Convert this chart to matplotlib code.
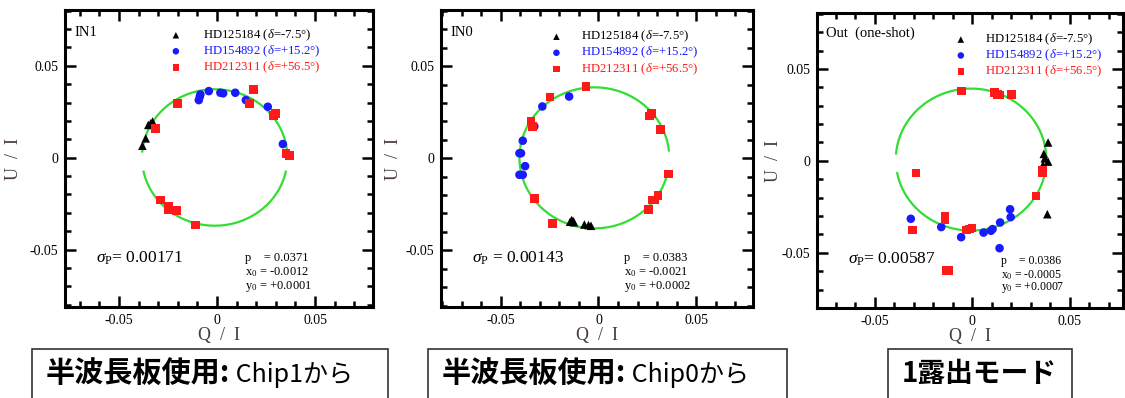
import numpy as np
import matplotlib.pyplot as plt
from matplotlib.patches import Rectangle
from matplotlib.ticker import MultipleLocator

plt.rcParams['font.family'] = ['Liberation Serif', 'DejaVu Serif']
plt.rcParams['mathtext.fontset'] = 'custom'
plt.rcParams['mathtext.rm'] = 'Liberation Serif'
plt.rcParams['mathtext.it'] = 'Liberation Serif:italic'

# ---- data: (Q/I, U/I) ----
# panel 1: IN1
p1_black_q = [-0.0381, -0.0364, -0.0351, -0.0339, -0.0329]
p1_black_u = [0.0065, 0.0105, 0.0178, 0.0187, 0.0197]
p1_blue_q = [-0.0093, -0.0088, -0.0085, -0.0042, 0.0017, 0.0031, 0.0093, 0.0147, 0.0259, 0.0336]
p1_blue_u = [0.0313, 0.0332, 0.0344, 0.0362, 0.0353, 0.0350, 0.0353, 0.0313, 0.0277, 0.0074]
p1_red_q = [-0.0203, -0.0314, 0.0186, 0.0166, 0.0288, 0.0297, 0.0353, 0.0369,
            -0.0288, -0.0249, -0.0249, -0.0208, -0.0110]
p1_red_u = [0.0295, 0.0159, 0.0371, 0.0295, 0.0228, 0.0241, 0.0024, 0.0011,
            -0.0230, -0.0263, -0.0284, -0.0288, -0.0366]

# panel 2: IN0
p2_black_q = [-0.0137, -0.0130, -0.0145, -0.0125, -0.0072, -0.0051, -0.0038]
p2_black_u = [-0.0336, -0.0340, -0.0345, -0.0348, -0.0360, -0.0363, -0.0367]
p2_blue_q = [-0.0150, -0.0287, -0.0328, -0.0387, -0.0396, -0.0404, -0.0375, -0.0404, -0.0387]
p2_blue_u = [0.0335, 0.0281, 0.0173, 0.0095, 0.0027, 0.0027, -0.0043, -0.0090, -0.0090]
p2_red_q = [-0.0063, -0.0247, -0.0346, -0.0338, 0.0270, 0.0261, 0.0316, 0.0358,
            0.0273, 0.0290, 0.0304, 0.0256, -0.0328, -0.0235]
p2_red_u = [0.0389, 0.0333, 0.0198, 0.0171, 0.0243, 0.0230, 0.0155, -0.0085,
            -0.0228, -0.0228, -0.0201, -0.0277, -0.0219, -0.0354]

# panel 3: Out (one-shot)
p3_black_q = [0.0390, 0.0368, 0.0373, 0.0390, 0.0364, 0.0386]
p3_black_u = [0.0100, 0.0038, 0.0014, -0.0004, -0.0022, -0.0290]
p3_blue_q = [-0.0314, -0.0158, -0.0056, 0.0059, 0.0097, 0.0105, 0.0144, 0.0141, 0.0195, 0.0198]
p3_blue_u = [-0.0315, -0.0360, -0.0415, -0.0390, -0.0380, -0.0371, -0.0335, -0.0475, -0.0263, -0.0306]
p3_red_q = [-0.0054, 0.0115, 0.0131, 0.0144, 0.0203, 0.0361, 0.0361, 0.0327,
            -0.0288, -0.0139, -0.0139, -0.0305, -0.0014, 0.0000, -0.0029, -0.0130, -0.0122]
p3_red_u = [0.0380, 0.0371, 0.0362, 0.0359, 0.0362, -0.0049, -0.0067, -0.0190,
            -0.0067, -0.0303, -0.0321, -0.0375, -0.0370, -0.0366, -0.0375, -0.0596, -0.0596]

panel_names = ['IN1', 'IN0', 'Out  (one-shot)']
sigma_p = ['0.00171', '0.00143', '0.00587']
sigma_lbl = ['$\\sigma_\\mathrm{P}$= ', '$\\sigma_\\mathrm{P}$ = ', '$\\sigma_\\mathrm{P}$= ']
fit_p = ['0.0371', '0.0383', '0.0386']
fit_x0 = ['-0.0012', '-0.0021', '-0.0005']
fit_y0 = ['+0.0001', '+0.0002', '+0.0007']
# arcs of the fitted circle (degrees), gaps where nothing was drawn
arcs = [[(5, 175), (192, 348)], [(6, 346)], [(-169, 175)]]

star_names = ['HD125184 ($\\delta$=-7.5\u00b0)', 'HD154892 ($\\delta$=+15.2\u00b0)',
              'HD212311 ($\\delta$=+56.5\u00b0)']
star_colors = ['black', '#1a1aff', '#ff1a1a']
star_markers = ['^', 'o', 's']

box_texts = [('半波長板使用:', ' Chip1から'), ('半波長板使用:', ' Chip0から'), ('1露出モード', '')]

panels = [
    [(p1_black_q, p1_black_u), (p1_blue_q, p1_blue_u), (p1_red_q, p1_red_u)],
    [(p2_black_q, p2_black_u), (p2_blue_q, p2_blue_u), (p2_red_q, p2_red_u)],
    [(p3_black_q, p3_black_u), (p3_blue_q, p3_blue_u), (p3_red_q, p3_red_u)],
]

W, H = 1125, 398
fig = plt.figure(figsize=(W / 100, H / 100), dpi=100)

# axes boxes in pixels: left, right, top, bottom
ax_px = [(65, 373, 10, 307), (441, 753, 10, 307), (817, 1123, 13, 308)]
xlims = [(-0.0776, 0.0796), (-0.0805, 0.0790), (-0.0795, 0.0774)]
ylims = [(-0.0812, 0.0803), (-0.0808, 0.0805), (-0.0800, 0.0804)]
ylab_x = [-0.14, -0.125, -0.114]
leg_x = [(0.36, 0.447), (0.37, 0.45), (0.47, 0.55)]
leg_y = [(0.915, 0.861, 0.807), (0.910, 0.856, 0.802), (0.910, 0.856, 0.802)]
stat_x = [0.585, 0.585, 0.60]
stat_y = [(0.165, 0.116, 0.070), (0.165, 0.116, 0.070), (0.158, 0.113, 0.068)]
stat_fs = [9, 9, 8.5]
label_col = '#4a3a44'

for i in range(3):
    l, r, t, b = ax_px[i]
    ax = fig.add_axes([l / W, (H - b) / H, (r - l) / W, (b - t) / H])
    ax.set_xlim(*xlims[i])
    ax.set_ylim(*ylims[i])
    for s in ax.spines.values():
        s.set_linewidth(2.2)
    ax.xaxis.set_minor_locator(MultipleLocator(0.01))
    ax.yaxis.set_minor_locator(MultipleLocator(0.01))
    ax.tick_params(which='both', direction='in', top=True, right=True, width=1.8,
                   labelsize=10, pad=5)
    ax.tick_params(which='major', length=8)
    ax.tick_params(which='minor', length=4.5)
    ax.set_xticks([-0.05, 0, 0.05])
    ax.set_xticklabels(['-0.05', '0', '0.05'])
    ax.set_yticks([-0.05, 0, 0.05])
    ax.set_yticklabels(['-0.05', '0', '0.05'])
    ax.set_xlabel('Q  /  I', fontsize=13, color=label_col, labelpad=0)
    ax.set_ylabel('U  /  I', fontsize=13, color=label_col)
    ax.yaxis.set_label_coords(ylab_x[i], 0.5)

    # fitted circle
    x0 = float(fit_x0[i])
    y0 = float(fit_y0[i])
    rad = float(fit_p[i])
    for a0, a1 in arcs[i]:
        th = np.radians(np.linspace(a0, a1, 200))
        ax.plot(x0 + rad * np.cos(th), y0 + rad * np.sin(th),
                color='#33dd33', lw=1.6, zorder=2)

    for k, (q, u) in enumerate(panels[i]):
        ax.scatter(q, u, marker=star_markers[k], color=star_colors[k], s=38,
                   edgecolors='none', zorder=3)

    # legend drawn by hand
    for k in range(3):
        ax.scatter([leg_x[i][0]], [leg_y[i][k]], transform=ax.transAxes,
                   marker=star_markers[k], color=star_colors[k], s=22,
                   edgecolors='none', clip_on=False)
        ax.text(leg_x[i][1], leg_y[i][k], star_names[k], transform=ax.transAxes,
                fontsize=9.2, color=star_colors[k], va='center', ha='left')

    ax.text(0.03, 0.925 if i < 2 else 0.93, panel_names[i], transform=ax.transAxes,
            fontsize=10.5, va='center')
    ax.text(0.10, 0.165, sigma_lbl[i] + sigma_p[i], transform=ax.transAxes, fontsize=12.5,
            va='center')
    sx = stat_x[i]
    sy = stat_y[i]
    ax.text(sx, sy[0], 'p    = ' + fit_p[i], transform=ax.transAxes, fontsize=stat_fs[i],
            va='center')
    ax.text(sx, sy[1], '$\\mathrm{x}_0$ = ' + fit_x0[i], transform=ax.transAxes,
            fontsize=stat_fs[i], va='center')
    ax.text(sx, sy[2], '$\\mathrm{y}_0$ = ' + fit_y0[i], transform=ax.transAxes,
            fontsize=stat_fs[i], va='center')

# caption boxes under the panels
box_px = [(32, 388), (428, 787), (888, 1072)]
for i in range(3):
    bl, br = box_px[i]
    fig.patches.append(Rectangle((bl / W, -0.01), (br - bl) / W, (H - 349) / H + 0.01,
                                 transform=fig.transFigure, fill=False, lw=1.2,
                                 edgecolor='#333333'))
    bold_t, reg_t = box_texts[i]
    t1 = fig.text((bl + 14) / W, (H - 374) / H, bold_t, fontsize=21 if reg_t else 20,
                  fontweight='bold', family=['Noto Sans CJK JP', 'DejaVu Sans'],
                  va='center', ha='left')
    if reg_t:
        fig.canvas.draw()
        bb = t1.get_window_extent()
        fig.text(bb.x1 / W, (H - 375) / H, reg_t, fontsize=18,
                 family=['Noto Sans CJK JP', 'DejaVu Sans'], va='center', ha='left')

fig.savefig('out.png', dpi=100)
